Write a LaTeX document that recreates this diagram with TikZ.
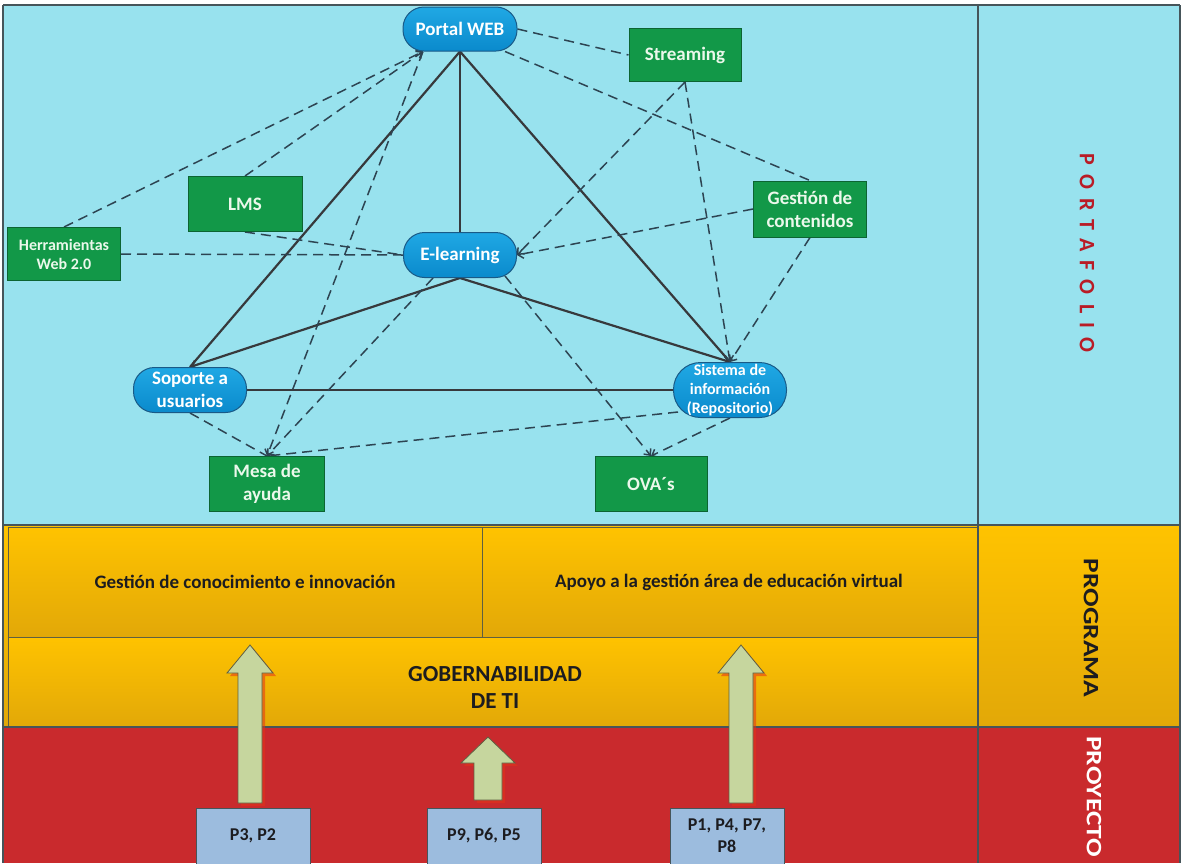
\documentclass[tikz,border=0pt]{standalone}
\usepackage{fontspec}
\usepackage{graphicx}
\setmainfont{Carlito}
\newfontfamily\spacedfont[LetterSpace=42]{Carlito}
\usetikzlibrary{arrows.meta,calc}

\definecolor{sky}{RGB}{152,226,238}
\definecolor{pilltop}{RGB}{32,168,228}
\definecolor{pillbot}{RGB}{10,138,204}
\definecolor{pilledge}{RGB}{25,90,135}
\definecolor{boxgreen}{RGB}{18,152,72}
\definecolor{boxedge}{RGB}{12,100,50}
\definecolor{boxtext}{RGB}{235,248,235}
\definecolor{goldtop}{RGB}{255,195,0}
\definecolor{goldbot}{RGB}{226,168,8}
\definecolor{brick}{RGB}{201,42,45}
\definecolor{pboxfill}{RGB}{156,188,222}
\definecolor{olive}{RGB}{198,214,158}
\definecolor{oliveedge}{RGB}{95,95,65}
\definecolor{linkgray}{RGB}{55,57,60}
\definecolor{dashgray}{RGB}{45,68,82}
\definecolor{framegray}{RGB}{70,85,90}
\definecolor{portred}{RGB}{185,28,38}
\definecolor{inkdark}{RGB}{28,28,32}

\pgfdeclarelayer{back}
\pgfdeclarelayer{links}
\pgfsetlayers{back,links,main}

% block arrow pointing up: centre x, tip y, head base y, bottom y, head half width, shaft half width
\newcommand{\upblock}[6]{%
  \fill[red!60!brown, opacity=0.55] (#1+3,#2+3) -- (#1+#5+3,#3+3) -- (#1+#6+3,#3+3) -- (#1+#6+3,#4+3)
    -- (#1-#6+3,#4+3) -- (#1-#6+3,#3+3) -- (#1-#5+3,#3+3) -- cycle;
  \draw[fill=olive, draw=oliveedge, line width=0.8pt] (#1,#2) -- (#1+#5,#3) -- (#1+#6,#3) -- (#1+#6,#4)
    -- (#1-#6,#4) -- (#1-#6,#3) -- (#1-#5,#3) -- cycle;}

\begin{document}
\begin{tikzpicture}[x=1pt,y=-1pt,
  pill/.style={draw=pilledge, line width=1pt, top color=pilltop, bottom color=pillbot,
    text=white, font=\bfseries\fontsize{19}{23}\selectfont, align=center, inner sep=0pt,
    minimum width=114pt, minimum height=44pt, rounded corners=21pt},
  gbox/.style={draw=boxedge, line width=1pt, fill=boxgreen, text=boxtext,
    font=\bfseries\fontsize{19}{23}\selectfont, align=center, inner sep=0pt,
    minimum width=113pt, minimum height=54pt},
  pbox/.style={draw=framegray, line width=0.8pt, fill=pboxfill, text=inkdark,
    font=\bfseries\fontsize{18}{22}\selectfont, align=center, inner sep=0pt,
    minimum width=114pt, minimum height=56pt},
  solidlink/.style={draw=linkgray, line width=2.2pt},
  dashlink/.style={draw=dashgray, line width=1.5pt, dash pattern=on 10pt off 6pt},
  tip/.style={-{Straight Barb[length=5pt,width=9pt]}},
  bandlabel/.style={font=\bfseries\fontsize{19}{22}\selectfont, text=inkdark, inner sep=0pt}
]
\useasboundingbox (0,0) rectangle (1181,863);
\clip (0,0) rectangle (1181,863);

% ---------- background bands ----------
\begin{pgfonlayer}{back}
  \fill[white] (0,0) rectangle (1181,863);
  \fill[sky] (3,5) rectangle (1180,525);
  \shade[top color=goldtop, bottom color=goldbot] (3,525) rectangle (978,727);
  \shade[top color=goldtop, bottom color=goldbot] (978,525) rectangle (1180,727);
  \shade[top color=goldtop, bottom color=goldbot, draw=oliveedge, line width=0.6pt] (8,527) rectangle (482,637);
  \shade[top color=goldtop, bottom color=goldbot, draw=oliveedge, line width=0.6pt] (482,527) rectangle (977,637);
  \shade[top color=goldtop, bottom color=goldbot, draw=oliveedge, line width=0.6pt] (8,637) rectangle (977,727);
  \fill[brick] (3,727) rectangle (1180,863);
  \draw[framegray, line width=2pt] (3,5) -- (1180,5);
  \draw[framegray, line width=1.5pt] (3,5) -- (3,863);
  \draw[framegray, line width=1.5pt] (978,5) -- (978,863);
  \draw[framegray, line width=1.5pt] (1180,5) -- (1180,863);
  \draw[framegray, line width=1.5pt] (3,525) -- (1180,525);
  \draw[framegray, line width=1.5pt] (3,727) -- (1180,727);
\end{pgfonlayer}

% ---------- level labels ----------
\node[rotate=-90, text=portred, font=\spacedfont\bfseries\fontsize{22}{26}\selectfont, inner sep=0pt]
  (portafolio) at (1087,253) {PORTAFOLIO};
\node[rotate=-90, text=inkdark, font=\bfseries\fontsize{22}{26}\selectfont, inner sep=0pt]
  (programa) at (1091,628) {\scalebox{1.25}[1]{PROGRAMA}};
\node[rotate=-90, anchor=west, text=white, font=\bfseries\fontsize{22}{26}\selectfont, inner sep=0pt]
  (proyecto) at (1094,736) {\scalebox{1.25}[1]{PROYECTO}};

% ---------- programme bands ----------
\node[bandlabel] (gestcon) at (245,582) {Gestión de conocimiento e innovación};
\node[bandlabel] (apoyo) at (729,582) {Apoyo a la gestión área de educación virtual};
\node[font=\bfseries\fontsize{23}{27}\selectfont, text=inkdark, align=center, inner sep=0pt]
  (gobierno) at (495,687) {GOBERNABILIDAD\\DE TI};

% ---------- projects and their arrows ----------
\upblock{250}{645}{673}{803}{23}{12}
\upblock{741}{645}{673}{803}{23}{12}
\upblock{488}{737}{763}{800}{27}{14}
\node[pbox] (pa) at (253,836) {P3, P2};
\node[pbox] (pb) at (484,836) {P9, P6, P5};
\node[pbox] (pc) at (727,836) {P1, P4, P7,\\P8};

% ---------- portfolio network ----------
\node[pill] (portal) at (460,29) {Portal WEB};
\node[gbox, minimum width=112pt, minimum height=53pt] (stream) at (685,55) {Streaming};
\node[gbox, minimum width=114pt, minimum height=55pt] (lms) at (245,204) {LMS};
\node[gbox, minimum height=53pt, font=\bfseries\fontsize{16}{19}\selectfont] (herr) at (64,254) {Herramientas\\Web 2.0};
\node[pill, minimum width=113pt, minimum height=45pt] (elearn) at (460,255) {E-learning};
\node[gbox, minimum height=56pt] (gestion) at (810,209) {Gestión de\\contenidos};
\node[pill, minimum width=113pt, minimum height=55pt, rounded corners=27pt,
  font=\bfseries\fontsize{16}{19}\selectfont] (sistema) at (730,390) {Sistema de\\información\\(Repositorio)};
\node[pill, minimum width=113pt, minimum height=45pt] (soporte) at (190,390) {Soporte a\\usuarios};
\node[gbox, minimum width=115pt, minimum height=55pt] (mesa) at (267,484) {Mesa de\\ayuda};
\node[gbox, minimum width=112pt, minimum height=55pt] (ova) at (651,484) {OVA´s};

\coordinate (portalsw) at ($(portal.south)+(-37,0)$);
\coordinate (portalse) at ($(portal.south)+(45,0)$);
\coordinate (elearnsw) at ($(elearn.south)+(-27,0)$);
\coordinate (elearnse) at ($(elearn.south)+(45,-2)$);
\coordinate (sistemasw) at ($(sistema.center)+(-52,22)$);

\begin{pgfonlayer}{links}
  % main triangle
  \draw[solidlink] (portal.south) -- (elearn.north);
  \draw[solidlink] (portal.south) -- (soporte.north);
  \draw[solidlink] (portal.south) -- (sistema.north);
  \draw[solidlink, tip] (elearn.south) -- (soporte.north);
  \draw[solidlink, tip] (elearn.south) -- (sistema.north);
  \draw[solidlink] (soporte.east) -- (sistema.west);
  % dashed relations
  \draw[dashlink] (portal.east) -- (stream.west);
  \draw[dashlink] (portalse) -- (gestion.north);
  \draw[dashlink, tip] (herr.north) -- (portalsw);
  \draw[dashlink, tip] (lms.north) -- (portalsw);
  \draw[dashlink, tip] (portalsw) -- (mesa.north);
  \draw[dashlink, tip] (stream.south) -- (elearn.east);
  \draw[dashlink, tip] (gestion.west) -- (elearn.east);
  \draw[dashlink, tip] (stream.south) -- (sistema.north);
  \draw[dashlink, tip] (gestion.south) -- (sistema.north);
  \draw[dashlink] (lms.south) -- (elearn.west);
  \draw[dashlink] (herr.east) -- (elearn.west);
  \draw[dashlink, tip] (elearnsw) -- (mesa.north);
  \draw[dashlink, tip] (elearnse) -- (ova.north);
  \draw[dashlink] (soporte.south) -- (mesa.north);
  \draw[dashlink] (sistemasw) -- (mesa.north);
  \draw[dashlink, tip] (sistema.south) -- (ova.north);
\end{pgfonlayer}
\end{tikzpicture}
\end{document}
